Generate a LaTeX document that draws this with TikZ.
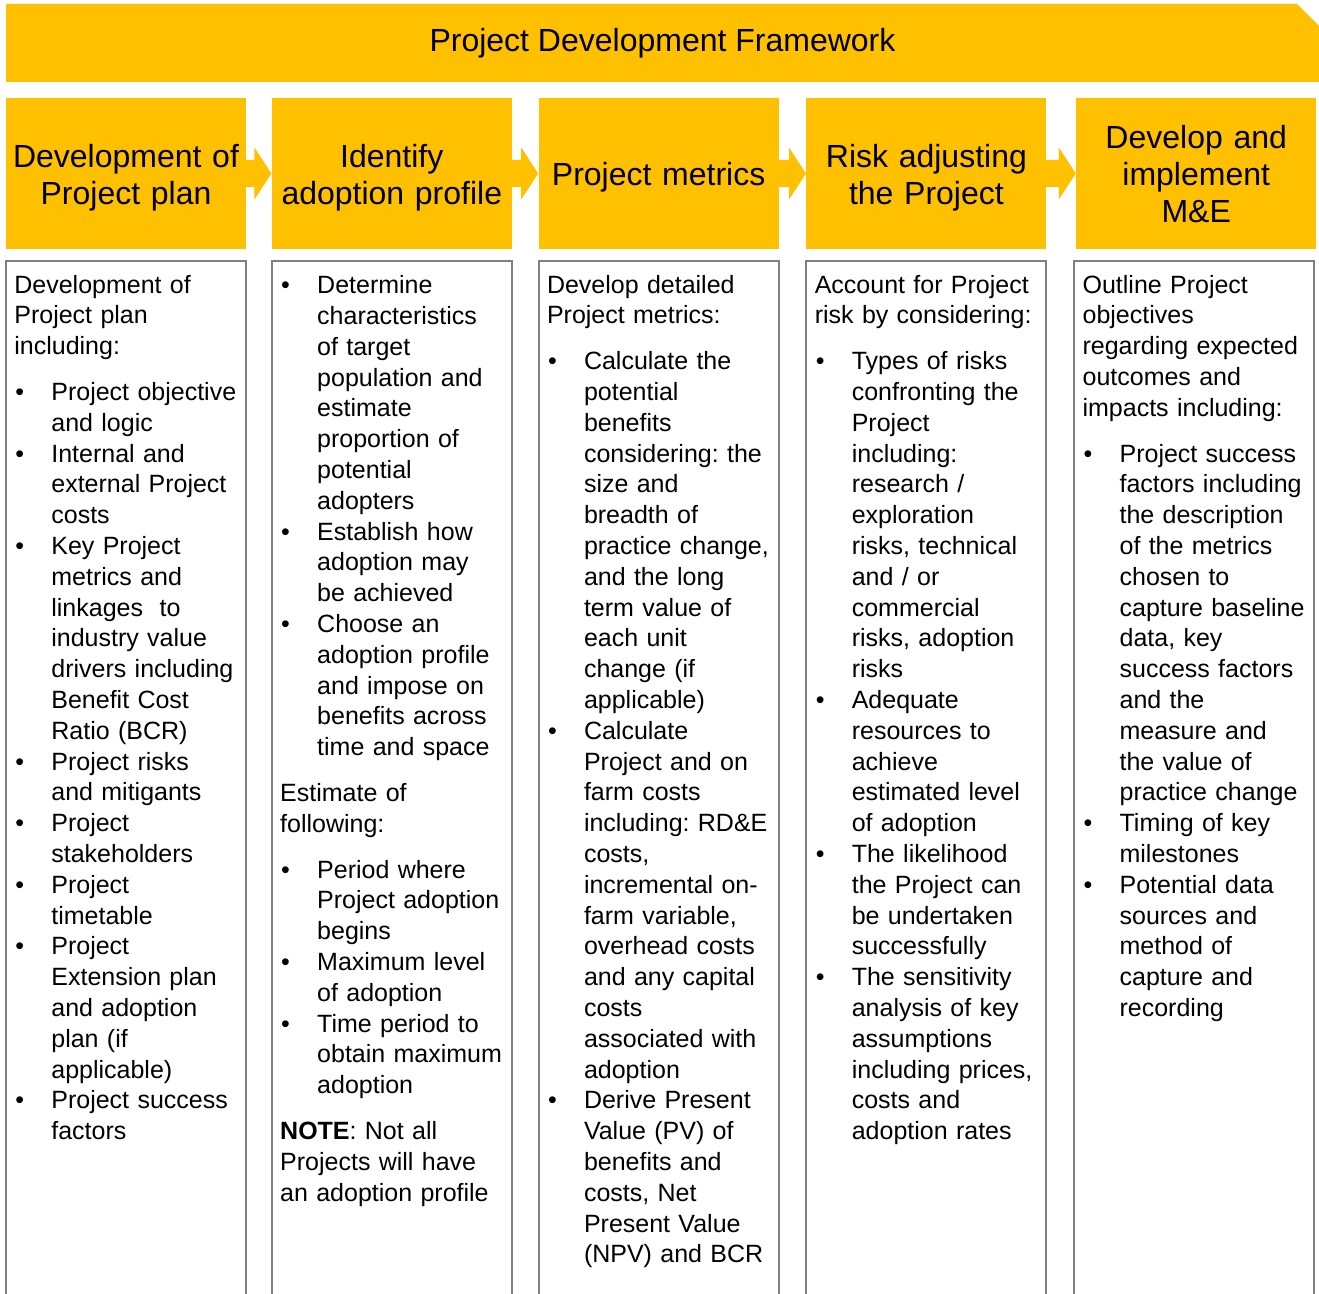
\documentclass[tikz,border=0pt]{standalone}
\usepackage{fontspec}
\setmainfont{Liberation Sans}
\usetikzlibrary{positioning, calc, shapes.misc}

\definecolor{gold}{RGB}{255,192,0}
\definecolor{frame}{RGB}{128,128,128}

% bullet list used inside the panels
\newenvironment{pointlist}{%
	\begin{list}{\textbullet}{%
		\setlength{\leftmargin}{18.5pt}%
		\setlength{\labelwidth}{18pt}%
		\setlength{\labelsep}{0pt}%
		\setlength{\itemsep}{0pt}%
		\setlength{\parsep}{0pt}%
		\setlength{\topsep}{7.5pt}%
		\setlength{\partopsep}{0pt}%
		\renewcommand{\makelabel}[1]{##1\hfil}}}%
	{\end{list}}

\begin{document}
\begin{tikzpicture}[
			x=1pt, y=1pt,
			nodes = {
				align = center
			},
			banner/.style={
				chamfered rectangle,
				chamfered rectangle corners=north east,
				chamfered rectangle sep=5.5pt,
				fill=gold,
				minimum width=656.5pt,
				minimum height=39pt,
				inner sep=0pt,
				font=\fontsize{16pt}{18.5pt}\selectfont
			},
			head/.style={
				fill=gold,
				minimum width=120pt,
				minimum height=75.5pt,
				inner sep=0pt,
				text width=118pt,
				font=\fontsize{16pt}{18.4pt}\selectfont,
				execute at begin node=\rule{0pt}{15.8pt},
				execute at end node=\rule[-3.5pt]{0pt}{3.5pt}
			},
			panel/.style={
				draw=frame,
				line width=1pt,
				minimum width=120pt,
				minimum height=530pt
			},
			txt/.style={
				anchor=north west,
				align=left,
				text width=116pt,
				inner xsep=4.5pt,
				inner ysep=7.1pt,
				font=\fontsize{12.5pt}{15.4pt}\selectfont\frenchspacing
			},
			flow/.style={
				fill=gold
			}
		]
			\useasboundingbox (0,0) rectangle (659.5,-647);

			\node[banner] (title) at (331.25,-21.5) {Project Development Framework};

			\node[head] (h1) at (63,-86.75) {Development of\\Project plan};
			\node[head] (h2) [right=12.5pt of h1] {Identify\\adoption profile};
			\node[head] (h3) [right=13pt of h2] {Project metrics};
			\node[head] (h4) [right=13.5pt of h3] {Risk adjusting\\the Project};
			\node[head] (h5) [right=14.5pt of h4] {Develop and\\implement\\M\&E};

			\foreach \a/\b in {h1/h2, h2/h3, h3/h4, h4/h5}
				\fill[flow] ($(\a.east)+(-1pt,6.75pt)$) -- ($(\b.west)+(-8.5pt,6.75pt)$)
					-- ($(\b.west)+(-8.5pt,13pt)$) -- (\b.west)
					-- ($(\b.west)+(-8.5pt,-13pt)$) -- ($(\b.west)+(-8.5pt,-6.75pt)$)
					-- ($(\a.east)+(-1pt,-6.75pt)$) -- cycle;

			\node[panel] (c1) [below=5.5pt of h1] {};
			\node[panel] (c2) [below=5.5pt of h2] {};
			\node[panel] (c3) [below=5.5pt of h3] {};
			\node[panel] (c4) [below=5.5pt of h4] {};
			\node[panel] (c5) [below=5.5pt of h5, xshift=-1pt] {};

			\node[txt] (t1) at (c1.north west) {
				Development of\\
				Project plan\\
				including:
				\begin{pointlist}
					\item Project objective\\ and logic
					\item Internal and\\ external Project\\ costs
					\item Key Project\\ metrics and\\ linkages~ to\\ industry value\\ drivers including\\ Benefit Cost\\ Ratio (BCR)
					\item Project risks\\ and mitigants
					\item Project\\ stakeholders
					\item Project\\ timetable
					\item Project\\ Extension plan\\ and adoption\\ plan (if\\ applicable)
					\item Project success\\ factors
				\end{pointlist}
			};

			% list at the top gets extra space, so lift this one
			\node[txt, yshift=13.5pt] (t2) at (c2.north west) {
				\begin{pointlist}
					\item Determine\\ characteristics\\ of target\\ population and\\ estimate\\ proportion of\\ potential\\ adopters
					\item Establish how\\ adoption may\\ be achieved
					\item Choose an\\ adoption profile\\ and impose on\\ benefits across\\ time and space
				\end{pointlist}
				Estimate of\\
				following:
				\begin{pointlist}
					\item Period where\\ Project adoption\\ begins
					\item Maximum level\\ of adoption
					\item Time period to\\ obtain maximum\\ adoption
				\end{pointlist}
				\textbf{NOTE}: Not all\\
				Projects will have\\
				an adoption profile
			};

			\node[txt] (t3) at (c3.north west) {
				Develop detailed\\
				Project metrics:
				\begin{pointlist}
					\item Calculate the\\ potential\\ benefits\\ considering: the\\ size and\\ breadth of\\ practice change,\\ and the long\\ term value of\\ each unit\\ change (if\\ applicable)
					\item Calculate\\ Project and on\\ farm costs\\ including: RD\&E\\ costs,\\ incremental on-\\ farm variable,\\ overhead costs\\ and any capital\\ costs\\ associated with\\ adoption
					\item Derive Present\\ Value (PV) of\\ benefits and\\ costs, Net\\ Present Value\\ (NPV) and BCR
				\end{pointlist}
			};

			\node[txt] (t4) at (c4.north west) {
				Account for Project\\
				risk by considering:
				\begin{pointlist}
					\item Types of risks\\ confronting the\\ Project\\ including:\\ research /\\ exploration\\ risks, technical\\ and / or\\ commercial\\ risks, adoption\\ risks
					\item Adequate\\ resources to\\ achieve\\ estimated level\\ of adoption
					\item The likelihood\\ the Project can\\ be undertaken\\ successfully
					\item The sensitivity\\ analysis of key\\ assumptions\\ including prices,\\ costs and\\ adoption rates
				\end{pointlist}
			};

			\node[txt] (t5) at (c5.north west) {
				Outline Project\\
				objectives\\
				regarding expected\\
				outcomes and\\
				impacts including:
				\begin{pointlist}
					\item Project success\\ factors including\\ the description\\ of the metrics\\ chosen to\\ capture baseline\\ data, key\\ success factors\\ and the\\ measure and\\ the value of\\ practice change
					\item Timing of key\\ milestones
					\item Potential data\\ sources and\\ method of\\ capture and\\ recording
				\end{pointlist}
			};
		\end{tikzpicture}
\end{document}
